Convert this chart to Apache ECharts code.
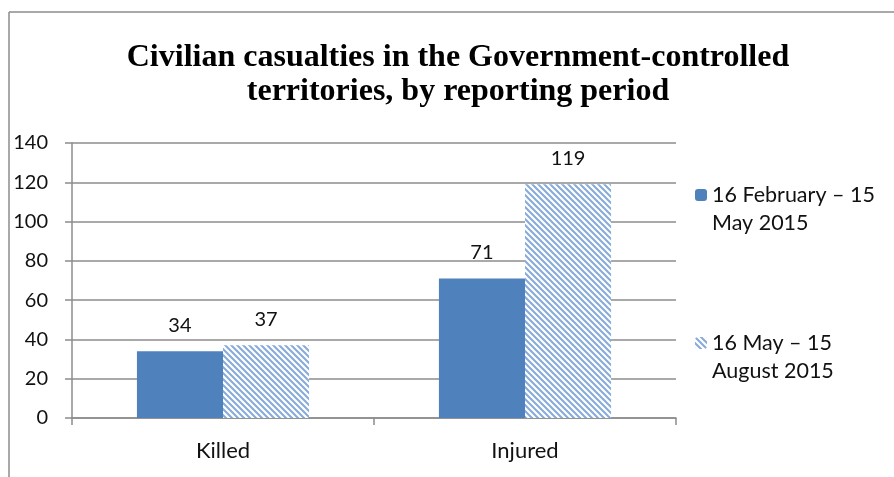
<!DOCTYPE html>
<html>
<head>
<meta charset="utf-8">
<script src="https://cdn.jsdelivr.net/npm/echarts@6/dist/echarts.min.js"></script>
<style>
  html, body { margin: 0; padding: 0; background: #fff; }
  #chart { width: 894px; height: 477px; }
</style>
</head>
<body>
<div id="chart"></div>
<script>
// data
var categories = ['Killed', 'Injured']
var period1 = [34, 71]
var period2 = [37, 119]
var seriesNames = ['16 February – 15\nMay 2015', '16 May – 15\nAugust 2015']
var yTicks = [0, 20, 40, 60, 80, 100, 120, 140]

// hatch fill for second period
function makeHatch() {
  var c = document.createElement('canvas')
  c.width = 6
  c.height = 6
  var ctx = c.getContext('2d')
  ctx.fillStyle = '#ffffff'
  ctx.fillRect(0, 0, 6, 6)
  ctx.strokeStyle = '#86aad9'
  ctx.lineWidth = 2
  ctx.beginPath()
  ctx.moveTo(-1, -1); ctx.lineTo(7, 7)
  ctx.moveTo(-1, 5); ctx.lineTo(1, 7)
  ctx.moveTo(5, -1); ctx.lineTo(7, 1)
  ctx.stroke()
  return c
}

var labelFont = 'Lato, "Open Sans", sans-serif'
var axisGray = '#8c8c8c'

var chart = echarts.init(document.getElementById('chart'), null, { renderer: 'canvas' })
var option = {
  animation: false,
  backgroundColor: '#fff',
  title: {
    text: 'Civilian casualties in the Government-controlled\nterritories, by reporting period',
    left: 458,
    top: 41,
    padding: 0,
    textAlign: 'center',
    textStyle: {
      fontFamily: '"Liberation Serif", "Times New Roman", serif',
      fontWeight: 'bold',
      fontSize: 32,
      lineHeight: 34,
      color: '#000'
    }
  },
  legend: {
    orient: 'vertical',
    left: 695,
    top: 153,
    padding: 0,
    itemWidth: 12,
    itemHeight: 12,
    itemGap: 64,
    // blank first line so the marker sits beside the first text line
    formatter: function (name) { return '\n' + name },
    textStyle: {
      fontFamily: labelFont,
      fontSize: 21.5,
      lineHeight: 28,
      color: '#111'
    }
  },
  grid: { left: 72, right: 218, top: 143, bottom: 59, containLabel: false },
  xAxis: {
    type: 'category',
    data: categories,
    axisLine: { lineStyle: { color: axisGray, width: 1.5 } },
    axisTick: { show: true, length: 7, lineStyle: { color: axisGray, width: 1.5 } },
    axisLabel: { margin: 22, fontFamily: labelFont, fontSize: 22, color: '#111' }
  },
  yAxis: {
    type: 'value',
    min: yTicks[0],
    max: yTicks[yTicks.length - 1],
    interval: 20,
    axisLine: { show: true, lineStyle: { color: axisGray, width: 1.5 } },
    axisTick: { show: true, length: 7, lineStyle: { color: axisGray, width: 1.5 } },
    axisLabel: { margin: 24, fontFamily: labelFont, fontSize: 20, color: '#111' },
    splitLine: { lineStyle: { color: axisGray, width: 1.5 } }
  },
  series: [
    {
      name: seriesNames[0],
      type: 'bar',
      data: period1,
      barGap: '0%',
      barCategoryGap: '43%',
      itemStyle: { color: '#4f81bd' },
      label: { show: true, position: 'top', distance: 16, fontFamily: labelFont, fontSize: 20, color: '#111' }
    },
    {
      name: seriesNames[1],
      type: 'bar',
      data: period2,
      barGap: '0%',
      barCategoryGap: '43%',
      itemStyle: { color: { image: makeHatch(), repeat: 'repeat' } },
      label: { show: true, position: 'top', distance: 16, fontFamily: labelFont, fontSize: 20, color: '#111' }
    }
  ],
  graphic: [
    { type: 'line', shape: { x1: 9, y1: 12, x2: 894, y2: 12 }, style: { stroke: '#8c8c8c', lineWidth: 1.5 } },
    { type: 'line', shape: { x1: 9, y1: 12, x2: 9, y2: 477 }, style: { stroke: '#8c8c8c', lineWidth: 1.5 } }
  ]
}
chart.setOption(option)
window.addEventListener('resize', () => {
  chart.resize()
})
</script>
</body>
</html>
